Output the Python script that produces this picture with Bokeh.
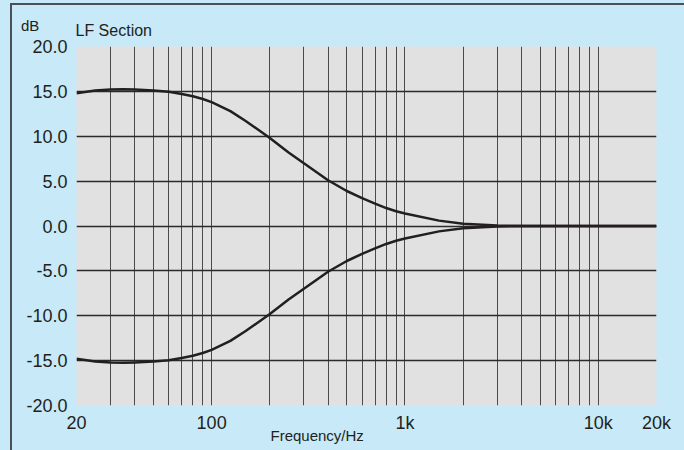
from bokeh.plotting import figure
from bokeh.models import (FixedTicker, CustomJSTickFormatter, PrintfTickFormatter,
                          Range1d, Title)
from bokeh.embed import file_html
from bokeh.resources import INLINE

# ---- data ----
freq_hz = [20, 25, 30, 35, 40, 50, 60, 70, 80, 90, 100, 125, 150, 175, 200, 250, 300,
           400, 500, 600, 700, 800, 900, 1000, 1500, 2000, 3000, 5000, 10000, 20000]
boost_db = [14.8, 15.1, 15.2, 15.25, 15.2, 15.1, 14.95, 14.7, 14.45, 14.15, 13.8, 12.8,
            11.7, 10.7, 9.8, 8.2, 7.0, 5.1, 3.9, 3.1, 2.5, 2.0, 1.65, 1.4, 0.6, 0.25,
            0.05, 0.0, 0.0, 0.0]
cut_db = [-14.8, -15.1, -15.2, -15.25, -15.2, -15.1, -14.95, -14.7, -14.45, -14.15, -13.8,
          -12.8, -11.7, -10.7, -9.8, -8.2, -7.0, -5.1, -3.9, -3.1, -2.5, -2.0, -1.65, -1.4,
          -0.6, -0.25, -0.05, 0.0, 0.0, 0.0]

x_tick_values = [20, 100, 1000, 10000, 20000]
x_tick_labels = ["20", "100", "1k", "10k", "20k"]
x_grid_values = [30, 40, 50, 60, 70, 80, 90, 100, 200, 300, 400, 500, 600, 700, 800, 900,
                 1000, 2000, 3000, 4000, 5000, 6000, 7000, 8000, 9000, 10000]
y_tick_values = [-20, -15, -10, -5, 0, 5, 10, 15, 20]
y_grid_values = [-15, -10, -5, 0, 5, 10, 15]

TEXT = "#231f20"
FONT = "Liberation Sans"
BLUE = "#c7e9f8"
EDGE = "#4b5057"

p = figure(width=684, height=450, x_axis_type="log",
           x_range=Range1d(20, 20000), y_range=Range1d(-20, 20),
           output_backend="svg", toolbar_location=None,
           min_border_left=76, min_border_right=28, min_border_top=46, min_border_bottom=45)
p.background_fill_color = "#e1e1e2"
p.border_fill_color = None
p.outline_line_color = None
p.styles = {
    "background": (f"linear-gradient({EDGE},{EDGE}) 10px 3px / 2px 100% no-repeat, "
                   f"linear-gradient({EDGE},{EDGE}) 10px 3px / 100% 2px no-repeat, {BLUE}"),
}
# unit caption "dB" in the top-left corner
p.stylesheets = [
    ":host::after { content: 'dB'; position: absolute; left: 21px; top: 18px; "
    f"font-family: '{FONT}'; font-size: 15px; line-height: 1; color: {TEXT}; "
    "z-index: 10; pointer-events: none; }"
]

# grids
p.xgrid.ticker = FixedTicker(ticks=x_grid_values)
p.xgrid.grid_line_color = "#4a4a4a"
p.xgrid.grid_line_width = 1
p.ygrid.ticker = FixedTicker(ticks=y_grid_values)
p.ygrid.grid_line_color = "#2a2a2a"
p.ygrid.grid_line_width = 1.5

# axes
label_map = {str(v): t for v, t in zip(x_tick_values, x_tick_labels)}
p.xaxis.ticker = FixedTicker(ticks=x_tick_values)
p.xaxis.formatter = CustomJSTickFormatter(args=dict(m=label_map),
                                          code="return m[String(Math.round(tick))] || '';")
p.yaxis.ticker = FixedTicker(ticks=y_tick_values)
p.yaxis.formatter = PrintfTickFormatter(format="%.1f")
for ax in (p.xaxis, p.yaxis):
    ax.axis_line_color = None
    ax.major_tick_line_color = None
    ax.minor_tick_line_color = None
    ax.major_tick_out = 0
    ax.major_tick_in = 0
    ax.minor_tick_out = 0
    ax.minor_tick_in = 0
    ax.major_label_text_font = FONT
    ax.major_label_text_font_size = "18px"
    ax.major_label_text_color = TEXT
p.xaxis.major_label_standoff = 7
p.yaxis.major_label_standoff = 9

# curves
p.line(freq_hz, boost_db, line_color=TEXT, line_width=2.5, line_join="round")
p.line(freq_hz, cut_db, line_color=TEXT, line_width=2.5, line_join="round")

# title above the frame
p.add_layout(Title(text="LF Section", align="left", offset=-1, standoff=16,
                   text_font=FONT, text_font_size="16px", text_font_style="normal",
                   text_color=TEXT), "above")
# axis caption below the tick labels
p.add_layout(Title(text="Frequency/Hz", align="left", offset=194, standoff=-18,
                   vertical_align="top",
                   text_font=FONT, text_font_size="15px", text_font_style="normal",
                   text_color=TEXT), "below")

open("out.html", "w").write(file_html(p, INLINE))
